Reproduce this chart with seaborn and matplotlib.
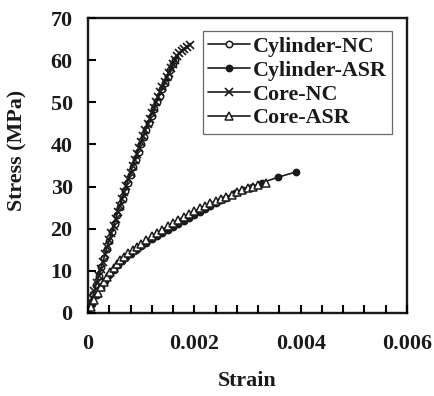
import matplotlib
matplotlib.use("Agg")
import matplotlib.pyplot as plt
from matplotlib.ticker import MultipleLocator, FuncFormatter
import seaborn as sns
import pandas as pd

# Stress-strain records (strain in mm/mm, stress in MPa)
cyl_nc_strain = [0, 0.00005, 0.0001, 0.00015, 0.0002, 0.00025, 0.0003, 0.00035,
                 0.0004, 0.00045, 0.0005, 0.00055, 0.0006, 0.00065, 0.0007,
                 0.00075, 0.0008, 0.00085, 0.0009, 0.00095, 0.001, 0.00105,
                 0.0011, 0.00115, 0.0012, 0.00125, 0.0013, 0.00135, 0.0014,
                 0.00145, 0.0015, 0.00155, 0.0016, 0.00163]
cyl_nc_stress = [0, 2.2, 4.4, 6.6, 8.8, 10.9, 13.0, 15.1, 17.2, 19.2, 21.2,
                 23.2, 25.2, 27.1, 29.0, 30.9, 32.8, 34.6, 36.4, 38.2, 40.0,
                 41.7, 43.4, 45.1, 46.8, 48.4, 50.0, 51.6, 53.1, 54.6, 56.1,
                 57.6, 59.0, 60.0]

cyl_asr_strain = [0, 0.00008, 0.00016, 0.00024, 0.00032, 0.0004, 0.00048,
                  0.00056, 0.00064, 0.00072, 0.0008, 0.0009, 0.001, 0.0011,
                  0.0012, 0.0013, 0.0014, 0.0015, 0.0016, 0.0017, 0.0018,
                  0.0019, 0.002, 0.0021, 0.0022, 0.0023, 0.0024, 0.0025,
                  0.0026, 0.00276, 0.00292, 0.00308, 0.00327, 0.00357, 0.00392]
cyl_asr_stress = [0, 2.2, 4.3, 6.1, 7.7, 9.1, 10.3, 11.4, 12.4, 13.3, 14.1,
                  15.0, 15.9, 16.7, 17.5, 18.3, 19.0, 19.7, 20.4, 21.1, 21.8,
                  22.5, 23.2, 23.9, 24.6, 25.3, 26.0, 26.7, 27.3, 28.4, 29.2,
                  29.9, 30.9, 32.2, 33.5]

core_nc_strain = [0, 0.00004, 0.00008, 0.00012, 0.00016, 0.0002, 0.00024,
                  0.00028, 0.00032, 0.00036, 0.0004, 0.00044, 0.00048, 0.00052,
                  0.00056, 0.0006, 0.00064, 0.00068, 0.00072, 0.00076, 0.0008,
                  0.00084, 0.00088, 0.00092, 0.00096, 0.001, 0.00104, 0.00108,
                  0.00112, 0.00116, 0.0012, 0.00124, 0.00128, 0.00132, 0.00136,
                  0.0014, 0.00144, 0.00148, 0.00152, 0.00156, 0.0016, 0.00164,
                  0.00168, 0.00172, 0.00176, 0.00181, 0.00186, 0.00192]
core_nc_stress = [0, 1.7, 3.5, 5.3, 7.1, 8.8, 10.5, 12.2, 13.9, 15.6, 17.3,
                  19.0, 20.6, 22.3, 23.9, 25.5, 27.1, 28.7, 30.2, 31.8, 33.3,
                  34.8, 36.3, 37.8, 39.2, 40.6, 42.0, 43.4, 44.8, 46.1, 47.4,
                  48.7, 50.0, 51.2, 52.4, 53.6, 54.8, 55.9, 57.0, 58.1, 59.1,
                  60.0, 60.9, 61.6, 62.2, 62.7, 63.2, 63.6]

core_asr_strain = [0, 0.00006, 0.00012, 0.00018, 0.00024, 0.0003, 0.00036,
                   0.00042, 0.00048, 0.00054, 0.0006, 0.00068, 0.00076,
                   0.00084, 0.00092, 0.001, 0.0011, 0.0012, 0.0013, 0.0014,
                   0.0015, 0.0016, 0.0017, 0.0018, 0.0019, 0.002, 0.0021,
                   0.0022, 0.0023, 0.0024, 0.0025, 0.0026, 0.0027, 0.0028,
                   0.0029, 0.003, 0.0031, 0.0032, 0.00334]
core_asr_stress = [0, 1.5, 3.2, 4.7, 6.1, 7.4, 8.6, 9.7, 10.7, 11.6, 12.5,
                   13.4, 14.2, 15.0, 15.7, 16.4, 17.3, 18.2, 19.0, 19.8, 20.6,
                   21.4, 22.1, 22.8, 23.5, 24.1, 24.8, 25.4, 26.0, 26.5, 27.1,
                   27.6, 28.1, 28.6, 29.1, 29.6, 30.0, 30.4, 30.8]

series_labels = ["Cylinder-NC", "Cylinder-ASR", "Core-NC", "Core-ASR"]
x_tick_values = [0, 0.002, 0.004, 0.006]
y_tick_values = [0, 10, 20, 30, 40, 50, 60, 70]

ink = "#1a1a1a"
fsize = 15.8

sns.set_theme(style="ticks")
plt.rcParams["font.family"] = ["Liberation Serif", "DejaVu Serif"]
plt.rcParams["font.weight"] = "bold"

fig = plt.figure(figsize=(4.34, 3.96), dpi=100)
ax = fig.add_axes([88 / 434, 83 / 396, 319 / 434, 295 / 396])
ax.set_axisbelow(False)

records = [
    (cyl_nc_strain, cyl_nc_stress, dict(marker="o", markersize=4.6,
                                        markerfacecolor="white",
                                        markeredgewidth=1.1)),
    (cyl_asr_strain, cyl_asr_stress, dict(marker="o", markersize=4.6,
                                          markerfacecolor=ink,
                                          markeredgewidth=1.0)),
    (core_nc_strain, core_nc_stress, dict(marker="x", markersize=5.6,
                                          markeredgewidth=1.2)),
    (core_asr_strain, core_asr_stress, dict(marker="^", markersize=5.8,
                                            markerfacecolor="white",
                                            markeredgewidth=1.1)),
]

for label, (xs, ys, style) in zip(series_labels, records):
    df = pd.DataFrame({"Strain": xs, "Stress": ys})
    sns.lineplot(data=df, x="Strain", y="Stress", ax=ax, sort=False,
                 estimator=None, color=ink, linewidth=1.2,
                 markeredgecolor=ink, label=label, **style)

ax.set_xlim(0, 0.006)
ax.set_ylim(0, 70)
ax.set_xticks(x_tick_values)
ax.xaxis.set_minor_locator(MultipleLocator(0.0004))
ax.set_yticks(y_tick_values)
ax.xaxis.set_major_formatter(FuncFormatter(lambda v, p: f"{v:g}"))

for side in ["left", "right", "top", "bottom"]:
    ax.spines[side].set_visible(True)
    ax.spines[side].set_linewidth(1.7)
    ax.spines[side].set_color(ink)

ax.set_xlabel("Strain", fontsize=fsize, fontweight="bold", color=ink)
ax.set_ylabel("Stress (MPa)", fontsize=fsize, fontweight="bold", color=ink)
ax.xaxis.set_label_coords(0.5, -0.195)
ax.yaxis.set_label_coords(-0.19, 0.55)

leg = ax.legend(loc="upper right", bbox_to_anchor=(0.953, 0.956),
                borderaxespad=0, frameon=True, fancybox=False,
                prop={"family": "Liberation Serif", "weight": "bold",
                      "size": fsize},
                handlelength=1.9, handletextpad=0.12, labelspacing=0.16,
                borderpad=0.25)
leg.get_frame().set_edgecolor("#444444")
leg.get_frame().set_linewidth(0.9)
for t in leg.get_texts():
    t.set_color(ink)

# inward ticks on the bottom and left spines only
ax.tick_params(axis="x", which="both", direction="in", length=6, width=1.5,
               color="black", bottom=True, top=False, pad=15)
ax.tick_params(axis="y", which="major", direction="in", length=6, width=1.5,
               color="black", left=True, right=False, pad=11)
ax.tick_params(axis="y", which="minor", left=False, right=False)
ax.tick_params(axis="both", which="major", labelsize=fsize, labelcolor=ink)
for tk in ax.xaxis.get_major_ticks() + ax.xaxis.get_minor_ticks() \
        + ax.yaxis.get_major_ticks():
    tk.tick1line.set_visible(True)
    tk.tick1line.set_markeredgecolor("black")
    tk.tick1line.set_zorder(5)

fig.savefig("out.png", dpi=100, facecolor="white")
